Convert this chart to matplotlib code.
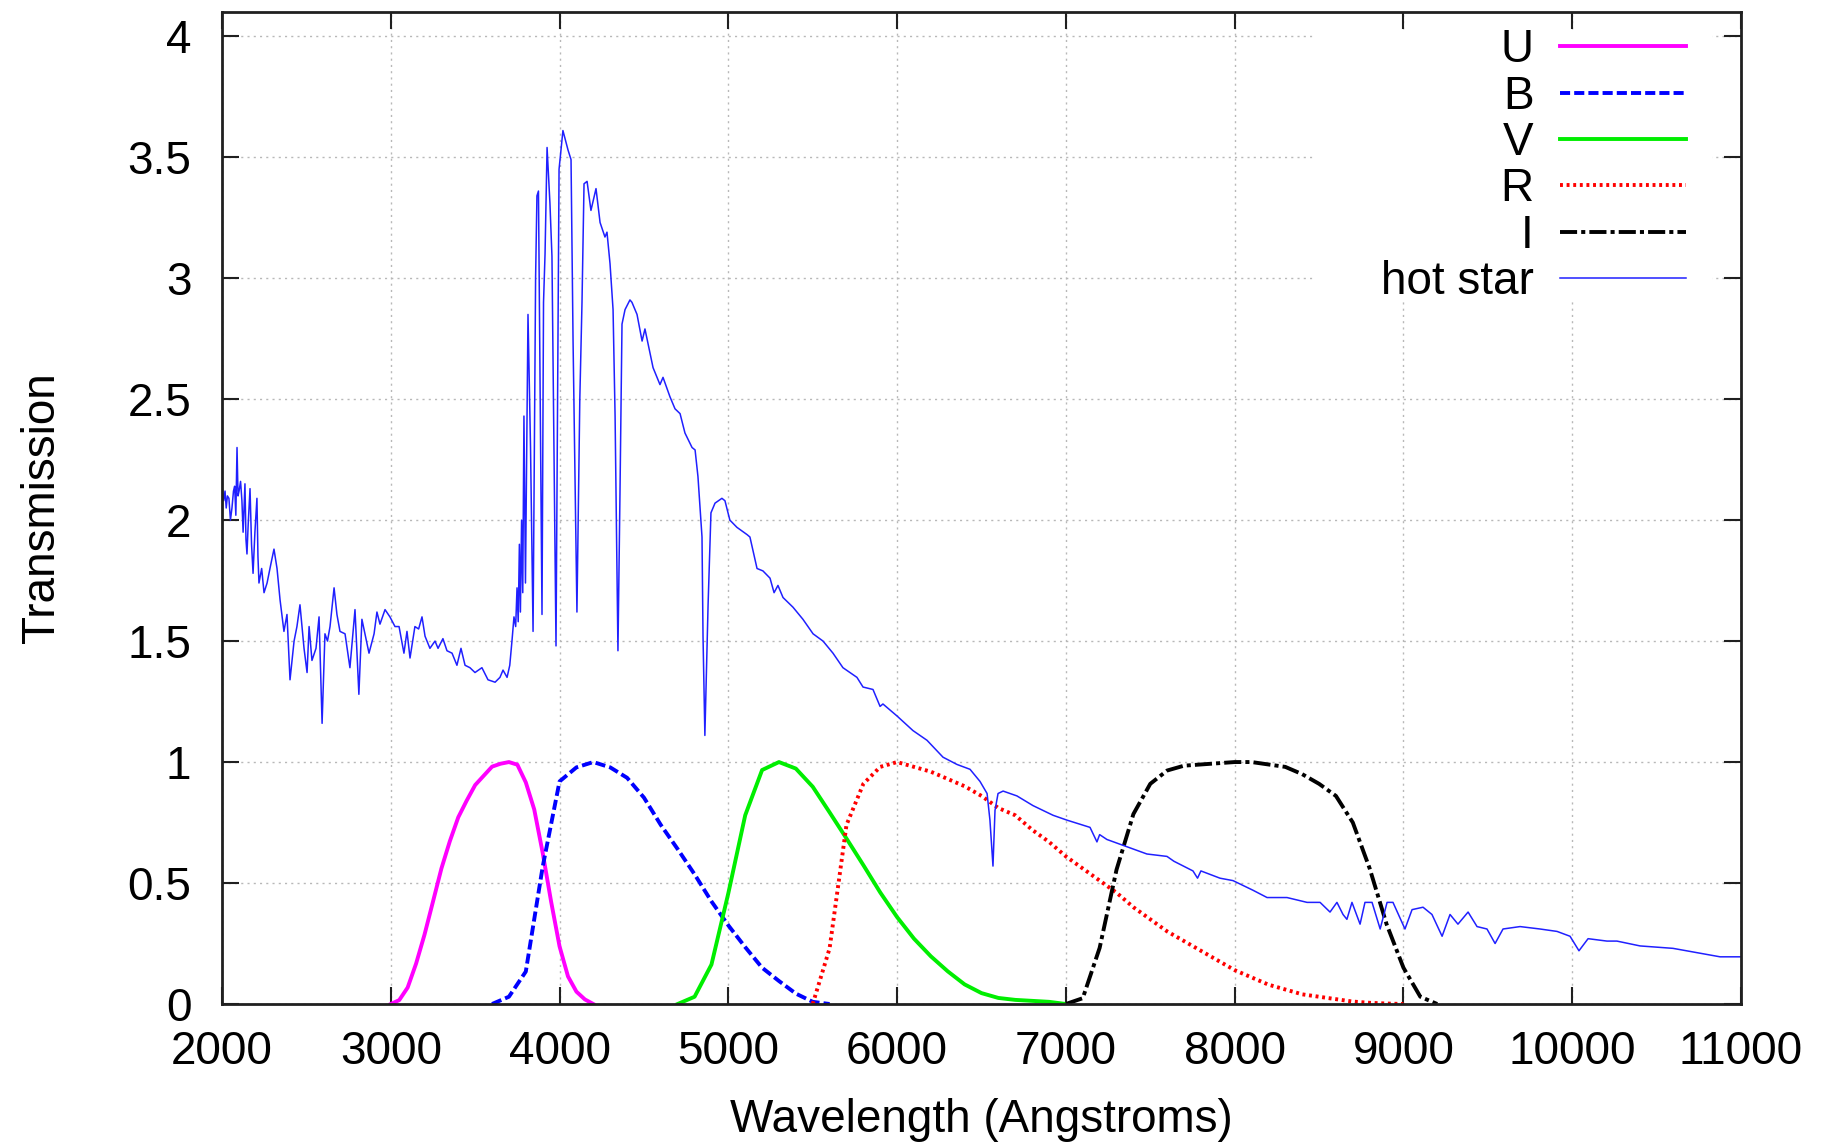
import matplotlib
matplotlib.use("Agg")
import matplotlib.pyplot as plt
from matplotlib.patches import Rectangle
from matplotlib.ticker import FuncFormatter, MultipleLocator

plt.rcParams['font.family'] = ['Liberation Sans', 'DejaVu Sans']

# ---------------- data ----------------
U_wl = [3000, 3050, 3100, 3150, 3200, 3250, 3300, 3350, 3400, 3450, 3500, 3550, 3600,
        3650, 3700, 3750, 3800, 3850, 3900, 3950, 4000, 4050, 4100, 4150, 4200]
U_tr = [0.000, 0.016, 0.068, 0.167, 0.287, 0.423, 0.560, 0.673, 0.772, 0.841, 0.905, 0.943,
        0.981, 0.993, 1.000, 0.989, 0.916, 0.804, 0.625, 0.423, 0.238, 0.114, 0.051, 0.019, 0.000]

B_wl = [3600, 3700, 3800, 3900, 4000, 4100, 4200, 4300, 4400, 4500, 4600, 4700, 4800,
        4900, 5000, 5100, 5200, 5300, 5400, 5500, 5600]
B_tr = [0.000, 0.030, 0.134, 0.567, 0.920, 0.978, 1.000, 0.978, 0.935, 0.853, 0.740, 0.640,
        0.536, 0.424, 0.325, 0.235, 0.150, 0.095, 0.043, 0.009, 0.000]

V_wl = [4700, 4800, 4900, 5000, 5100, 5200, 5300, 5400, 5500, 5600, 5700, 5800, 5900,
        6000, 6100, 6200, 6300, 6400, 6500, 6600, 6700, 6800, 6900, 7000]
V_tr = [0.000, 0.030, 0.163, 0.458, 0.780, 0.967, 1.000, 0.973, 0.898, 0.792, 0.684, 0.574,
        0.461, 0.359, 0.270, 0.197, 0.135, 0.081, 0.045, 0.025, 0.017, 0.013, 0.009, 0.000]

R_wl = [5500, 5600, 5700, 5800, 5900, 6000, 6100, 6200, 6300, 6400, 6500, 6600, 6700,
        6800, 6900, 7000, 7100, 7200, 7300, 7400, 7500, 7600, 7700, 7800, 7900, 8000,
        8100, 8200, 8300, 8400, 8500, 8600, 8700, 8800, 8900, 9000]
R_tr = [0.00, 0.23, 0.74, 0.91, 0.98, 1.00, 0.98, 0.96, 0.93, 0.90, 0.86, 0.81, 0.78,
        0.72, 0.67, 0.61, 0.56, 0.51, 0.46, 0.40, 0.35, 0.30, 0.26, 0.22, 0.18, 0.14,
        0.11, 0.08, 0.06, 0.04, 0.03, 0.02, 0.01, 0.005, 0.002, 0.00]

I_wl = [7000, 7100, 7200, 7300, 7400, 7500, 7600, 7700, 7800, 7900, 8000, 8100, 8200,
        8300, 8400, 8500, 8600, 8700, 8800, 8900, 9000, 9100, 9200]
I_tr = [0.000, 0.024, 0.232, 0.555, 0.785, 0.910, 0.965, 0.985, 0.990, 0.995, 1.000, 1.000,
        0.990, 0.980, 0.950, 0.910, 0.860, 0.750, 0.560, 0.330, 0.150, 0.030, 0.000]

star_wl = [2000, 2010, 2018, 2025, 2032, 2041, 2050, 2059, 2068, 2075, 2082, 2089, 2095,
           2101, 2110, 2118, 2125, 2136, 2142, 2148, 2155, 2166, 2175, 2184, 2195, 2207,
           2213, 2219, 2235, 2249, 2267, 2290, 2308, 2326, 2344, 2367, 2385, 2403, 2427,
           2444, 2462, 2486, 2504, 2516, 2533, 2557, 2575, 2593, 2610, 2625, 2640, 2664,
           2681, 2699, 2729, 2758, 2788, 2811, 2829, 2847, 2871, 2901, 2918, 2936, 2966,
           2995, 3025, 3049, 3078, 3096, 3114, 3143, 3165, 3185, 3203, 3232, 3262, 3280,
           3309, 3333, 3363, 3392, 3416, 3440, 3469, 3499, 3540, 3576, 3618, 3647, 3665,
           3689, 3705, 3718, 3730, 3740, 3748, 3755, 3762, 3768, 3775, 3782, 3789, 3798,
           3813, 3828, 3843, 3858, 3866, 3875, 3896, 3905, 3914, 3926, 3943, 3955, 3979,
           3997, 4020, 4050, 4068, 4080, 4103, 4120, 4133, 4145, 4163, 4186, 4216, 4240,
           4269, 4281, 4299, 4317, 4329, 4346, 4358, 4370, 4388, 4417, 4429, 4459, 4489,
           4506, 4554, 4595, 4613, 4654, 4684, 4714, 4743, 4785, 4803, 4820, 4844, 4850,
           4861, 4880, 4897, 4921, 4962, 4980, 5009, 5051, 5111, 5128, 5170, 5205, 5247,
           5271, 5294, 5324, 5383, 5442, 5502, 5561, 5620, 5679, 5762, 5798, 5857, 5899,
           5916, 6000, 6094, 6177, 6272, 6355, 6432, 6491, 6533, 6550, 6568, 6580, 6598,
           6628, 6710, 6805, 6924, 7006, 7143, 7184, 7200, 7243, 7362, 7480, 7599, 7640,
           7753, 7780, 7800, 7913, 7990, 8109, 8192, 8310, 8429, 8464, 8506, 8565, 8606,
           8642, 8665, 8695, 8743, 8772, 8814, 8862, 8903, 8938, 9009, 9051, 9116, 9169,
           9229, 9276, 9323, 9383, 9436, 9495, 9543, 9590, 9691, 9809, 9910, 9987, 10040,
           10094, 10206, 10265, 10402, 10597, 10757, 10876, 11000]
star_fx = [2.14, 2.08, 2.12, 2.05, 2.10, 2.09, 2.00, 2.05, 2.12, 2.14, 2.02, 2.30, 2.10,
           2.12, 2.16, 2.08, 1.95, 2.15, 1.92, 1.86, 1.98, 2.13, 1.90, 1.78, 1.95, 2.09,
           1.85, 1.74, 1.80, 1.70, 1.74, 1.82, 1.88, 1.80, 1.67, 1.54, 1.61, 1.34, 1.50,
           1.56, 1.65, 1.47, 1.37, 1.56, 1.42, 1.47, 1.60, 1.16, 1.53, 1.50, 1.56, 1.72,
           1.61, 1.54, 1.53, 1.39, 1.63, 1.28, 1.59, 1.53, 1.45, 1.53, 1.62, 1.57, 1.63,
           1.60, 1.56, 1.56, 1.45, 1.54, 1.43, 1.56, 1.55, 1.60, 1.52, 1.47, 1.50, 1.47,
           1.51, 1.46, 1.45, 1.40, 1.47, 1.40, 1.39, 1.37, 1.39, 1.34, 1.33, 1.35, 1.38,
           1.35, 1.40, 1.50, 1.60, 1.56, 1.72, 1.58, 1.90, 1.62, 2.00, 1.70, 2.43, 1.74,
           2.85, 2.30, 1.54, 3.00, 3.34, 3.36, 1.61, 2.90, 3.10, 3.54, 3.31, 3.09, 1.48,
           3.45, 3.61, 3.53, 3.49, 2.74, 1.62, 2.50, 2.90, 3.39, 3.40, 3.28, 3.37, 3.23,
           3.17, 3.19, 3.06, 2.87, 2.43, 1.46, 2.11, 2.81, 2.87, 2.91, 2.90, 2.85, 2.74,
           2.79, 2.63, 2.56, 2.59, 2.51, 2.46, 2.44, 2.36, 2.30, 2.29, 2.18, 1.93, 1.52,
           1.11, 1.65, 2.03, 2.07, 2.09, 2.08, 2.00, 1.97, 1.94, 1.93, 1.80, 1.79, 1.76,
           1.70, 1.73, 1.68, 1.64, 1.59, 1.53, 1.50, 1.45, 1.39, 1.35, 1.31, 1.30, 1.23,
           1.24, 1.19, 1.13, 1.09, 1.02, 0.99, 0.97, 0.92, 0.87, 0.76, 0.57, 0.80, 0.87,
           0.88, 0.86, 0.82, 0.78, 0.76, 0.73, 0.67, 0.70, 0.68, 0.65, 0.62, 0.61, 0.59,
           0.55, 0.52, 0.55, 0.52, 0.51, 0.47, 0.44, 0.44, 0.42, 0.42, 0.42, 0.38, 0.42,
           0.37, 0.35, 0.42, 0.33, 0.42, 0.42, 0.31, 0.42, 0.42, 0.31, 0.39, 0.40, 0.37,
           0.28, 0.37, 0.33, 0.38, 0.32, 0.31, 0.25, 0.31, 0.32, 0.31, 0.30, 0.28, 0.22,
           0.27, 0.26, 0.26, 0.24, 0.23, 0.21, 0.195, 0.195]

x_ticks = [2000, 3000, 4000, 5000, 6000, 7000, 8000, 9000, 10000, 11000]

# ---------------- figure ----------------
fig = plt.figure(figsize=(18.32, 11.44), dpi=100)
ax = fig.add_axes([222 / 1832, 1 - 1004 / 1144, (1741 - 222) / 1832, (1004 - 12) / 1144])

lw = 2.8
ax.plot(U_wl, U_tr, color='#ff00ff', lw=lw, label='U', zorder=2)
ax.plot(B_wl, B_tr, color='#0000ff', lw=lw, ls=(0, (2.6, 1.05)), label='B', zorder=2)
ax.plot(V_wl, V_tr, color='#00ee00', lw=lw, label='V', zorder=2)
ax.plot(R_wl, R_tr, color='#ff0000', lw=lw, ls=(0, (0.75, 0.95)), label='R', zorder=2)
ax.plot(I_wl, I_tr, color='black', lw=lw, ls=(0, (4.4, 1.05, 1.05, 1.05)), label='I', zorder=2)
ax.plot(star_wl, star_fx, color='#2020ff', lw=1.1, label='hot star', zorder=2.2)

ax.set_xlim(2000, 11000)
ax.set_ylim(0, 4.1)
ax.set_xticks(x_ticks)
ax.yaxis.set_major_locator(MultipleLocator(0.5))
ax.yaxis.set_major_formatter(FuncFormatter(lambda v, p: '%g' % v))

ax.grid(True, color='#b8b8b8', lw=1.0, ls=(0, (1.5, 3)))
for s in ax.spines.values():
    s.set_linewidth(2.0)
    s.set_color('#202020')
ax.tick_params(direction='in', length=12, width=1.5, top=True, right=True,
               labelsize=33, color='#202020')
ax.tick_params(axis='x', pad=19)
ax.tick_params(axis='y', pad=22)

ax.set_xlabel('Wavelength (Angstroms)', fontsize=33)
ax.set_ylabel('Transmission', fontsize=33)
ax.xaxis.set_label_coords(0.5, -0.0948)
ax.yaxis.set_label_coords(-0.104, 0.5)

# white key box (hides grid behind the key, like gnuplot)
ax.add_patch(Rectangle((0.719, 0.7077), 0.981 - 0.719, 0.982 - 0.7077,
                       transform=ax.transAxes, facecolor='white', edgecolor='none',
                       zorder=1.8))

leg = ax.legend(loc='upper right', bbox_to_anchor=(0.9638, 0.9834), frameon=False,
                markerfirst=False, fontsize=33, handlelength=2.74, handletextpad=0.59,
                labelspacing=0.05, borderpad=0, borderaxespad=0)

fig.savefig('out.png', dpi=100)
